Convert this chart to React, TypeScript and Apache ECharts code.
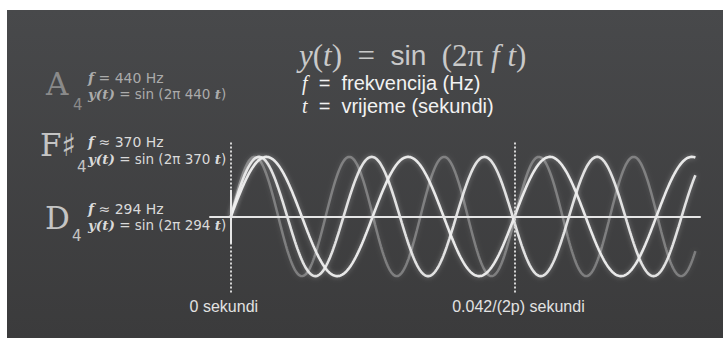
import { useEffect, useRef } from "react";
import * as echarts from "echarts";

// ---- data ----
const notes = ["A", "F♯", "D"];
const octaves = ["4", "4", "4"];
const frequencies = [440, 370, 294];
const freqLabels = ["f = 440 Hz", "f ≈ 370 Hz", "f ≈ 294 Hz"];
const markerTimes = [0, 0.0068];
const markerLabels = ["0 sekundi", "0.042/(2p) sekundi"];
const waveEnd = 0.01115; // seconds shown
const sampleStep = 0.00002;
const legendLines = ["f = frekvencija (Hz)", "t = vrijeme (sekundi)"];

// y(t) = sin(2π f t), as stated in the chart itself
function wave(f: number): number[][] {
  const pts: number[][] = [];
  for (let t = 0; t <= waveEnd + 1e-9; t += sampleStep) {
    pts.push([t, Math.sin(2 * Math.PI * f * t)]);
  }
  return pts;
}

const noteStyle = [
  { letter: "#8a8a8a", text: "#ababab", wave: "rgba(215,215,215,0.38)", width: 2.5 },
  { letter: "#c4c4c4", text: "#dadada", wave: "rgba(238,238,238,0.92)", width: 2.6 },
  { letter: "#c4c4c4", text: "#dadada", wave: "rgba(240,240,240,0.95)", width: 2.6 },
];
const notePos = [
  { lx: 46, ly: 84, sx: 73, sy: 105, fy: 78, ey: 94 },
  { lx: 40, ly: 145, sx: 77, sy: 167, fy: 142, ey: 159 },
  { lx: 45, ly: 218, sx: 72, sy: 236, fy: 209, ey: 225 },
];

export default function App() {
  const ref = useRef<HTMLDivElement>(null);
  useEffect(() => {
    document.body.style.margin = "0";
    const chart = echarts.init(ref.current!, null, { renderer: "svg" });
    const sans = "Liberation Sans";
    const graphics: any[] = [
      {
        type: "rect",
        z: -10,
        shape: { x: 7, y: 10, width: 716, height: 328 },
        style: {
          fill: new echarts.graphic.LinearGradient(0, 0, 0, 1, [
            { offset: 0, color: "#48494b" },
            { offset: 1, color: "#3b3b3c" },
          ]),
        },
        silent: true,
      },
      {
        type: "text",
        x: 299,
        y: 55,
        style: {
          text: "{i|y}{n|(}{i|t}{n|)  =  }{s|sin}{n|  (2π}{i| f t}{n|)}",
          verticalAlign: "middle",
          align: "left",
          fill: "#c9c9c9",
          rich: {
            i: { fontFamily: "Liberation Serif", fontStyle: "italic", fontSize: 31, lineHeight: 30, fill: "#c9c9c9" },
            n: { fontFamily: "Liberation Serif", fontSize: 31, lineHeight: 30, fill: "#c9c9c9" },
            s: { fontFamily: sans, fontSize: 28, lineHeight: 30, fill: "#c9c9c9" },
          },
        },
      },
    ];
    legendLines.forEach((l, i) => {
      const sym = l.slice(0, 1);
      const rest = l.slice(1).replace(" = ", "  =  ");
      graphics.push({
        type: "text",
        x: 302,
        y: 83 + i * 23,
        style: {
          text: `{i|${sym}}{n|${rest}}`,
          verticalAlign: "middle",
          align: "left",
          rich: {
            i: { fontFamily: "Liberation Serif", fontStyle: "italic", fontSize: 20, lineHeight: 18, fill: "#f2f2f2" },
            n: { fontFamily: sans, fontSize: 20, lineHeight: 18, fill: "#f2f2f2" },
          },
        },
      });
    });
    notes.forEach((n, i) => {
      const p = notePos[i];
      const s = noteStyle[i];
      graphics.push({
        type: "text",
        x: p.lx,
        y: p.ly,
        style: {
          text: n,
          fontFamily: "DejaVu Serif",
          fontSize: 31,
          fill: s.letter,
          verticalAlign: "middle",
          align: "left",
        },
      });
      graphics.push({
        type: "text",
        x: p.sx,
        y: p.sy,
        style: {
          text: octaves[i],
          fontFamily: "DejaVu Sans",
          fontSize: 15,
          fill: s.letter,
          verticalAlign: "middle",
          align: "left",
        },
      });
      const fl = freqLabels[i];
      graphics.push({
        type: "text",
        x: 88,
        y: p.fy,
        style: {
          text: `{b|f}{n|${fl.slice(1)}}`,
          verticalAlign: "middle",
          align: "left",
          rich: {
            b: { fontFamily: "DejaVu Serif", fontStyle: "italic", fontWeight: "bold", fontSize: 14, lineHeight: 14, fill: s.text },
            n: { fontFamily: "DejaVu Sans", fontSize: 14, lineHeight: 14, fill: s.text },
          },
        },
      });
      graphics.push({
        type: "text",
        x: 88,
        y: p.ey,
        style: {
          text: `{b|y(t)}{n| = sin (2π ${frequencies[i]} }{b|t}{n|)}`,
          verticalAlign: "middle",
          align: "left",
          rich: {
            b: { fontFamily: "DejaVu Serif", fontStyle: "italic", fontWeight: "bold", fontSize: 13.5, lineHeight: 14, fill: s.text },
            n: { fontFamily: "DejaVu Sans", fontSize: 13.5, lineHeight: 14, fill: s.text },
          },
        },
      });
    });

    const dash = { color: "#d6d6d6", width: 2, type: [2, 2] as any };
    const markData: any[] = markerTimes.map((t, i) => [
      {
        coord: [t, 1.24],
        lineStyle: dash,
        label: {
          show: true,
          position: "end",
          formatter: markerLabels[i],
          color: "#e2e2e2",
          fontFamily: sans,
          fontSize: 16,
          distance: 4,
          padding: i === 0 ? [0, 14, 0, 0] : [0, 0, 0, 8],
        },
      },
      { coord: [t, -1.3] },
    ]);
    markData.push([
      { coord: [0, 0.45], lineStyle: { color: "#e6e6e6", width: 2, type: "solid" }, label: { show: false } },
      { coord: [0, -0.45] },
    ]);

    const series: any[] = [0, 1, 2].map((i) => ({
      type: "line",
      name: notes[i],
      data: wave(frequencies[i]),
      showSymbol: false,
      smooth: false,
      silent: true,
      lineStyle: {
        color: noteStyle[i].wave,
        width: noteStyle[i].width,
        shadowBlur: 5,
        shadowColor: "rgba(255,255,255,0.35)",
      },
      z: 3,
    }));
    series[2].markLine = {
      silent: true,
      symbol: ["none", "none"],
      animation: false,
      data: markData,
    };

    chart.setOption({
      animation: false,
      backgroundColor: "#ffffff",
      grid: { left: 210, top: 136, width: 490, height: 161, outerBoundsMode: "none" },
      xAxis: {
        type: "value",
        min: -0.0005,
        max: 0.01125,
        axisLine: { show: true, onZero: true, lineStyle: { color: "#e6e6e6", width: 2 } },
        axisTick: { show: false },
        axisLabel: { show: false },
        splitLine: { show: false },
        z: 4,
      },
      yAxis: {
        type: "value",
        min: -1.35,
        max: 1.35,
        axisLine: { show: false },
        axisTick: { show: false },
        axisLabel: { show: false },
        splitLine: { show: false },
      },
      graphic: graphics,
      series,
    });
    return () => chart.dispose();
  }, []);
  return <div ref={ref} style={{ width: 723, height: 338 }} />;
}
